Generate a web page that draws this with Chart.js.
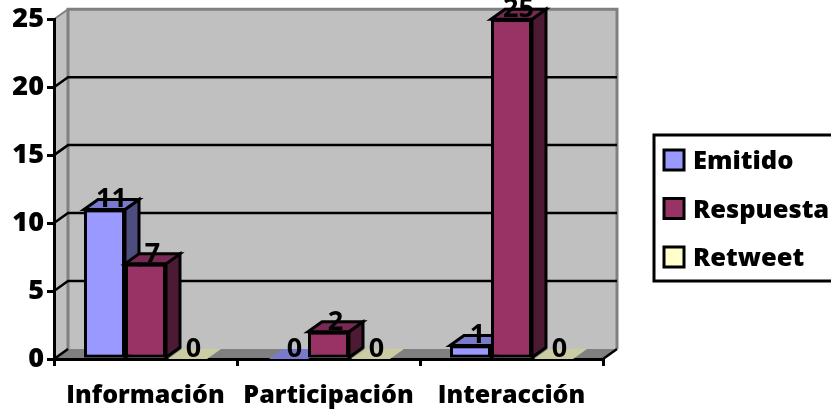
<!DOCTYPE html>
<html lang="es">
<head>
    <meta charset="UTF-8">
    <title>Emitido, Respuesta, Retweet</title>
    <script src="https://cdn.jsdelivr.net/npm/chart.js"></script>
    <style>
        html, body {
            margin: 0;
            background: #ffffff;
            overflow: hidden;
        }
        canvas {
            display: block;
        }
    </style>
</head>
<body>
    <canvas id="chart" width="831" height="415"></canvas>

    <script>
        const categories = ['Información', 'Participación', 'Interacción'];
        const emitido = [11, 0, 1];
        const respuesta = [7, 2, 25];
        const retweet = [0, 0, 0];
        const yMax = 25;
        const yStep = 5;

        const depthX = 14;   // how far the 3D back wall is shifted
        const depthY = 10;
        const legendFont = '800 25.5px "Open Sans"';

        function face(ctx, points, fill, stroke) {
            ctx.beginPath();
            points.forEach((p, i) => i ? ctx.lineTo(p[0], p[1]) : ctx.moveTo(p[0], p[1]));
            ctx.closePath();
            ctx.fillStyle = fill;
            ctx.fill();
            if (stroke) {
                ctx.lineWidth = 3;
                ctx.strokeStyle = stroke;
                ctx.lineJoin = 'miter';
                ctx.stroke();
            }
        }

        // walls and floor behind the bars
        const wallsPlugin = {
            id: 'walls',
            beforeDraw(chart) {
                const { ctx, chartArea: a, scales: { y } } = chart;
                const backTop = a.top - depthY;
                const backBottom = a.bottom - depthY;
                ctx.save();
                face(ctx, [[a.left, a.top], [a.left + depthX, backTop], [a.left + depthX, backBottom], [a.left, a.bottom]], '#c0c0c0');
                face(ctx, [[a.left + depthX, backTop], [a.right + depthX, backTop], [a.right + depthX, backBottom], [a.left + depthX, backBottom]], '#c0c0c0');
                face(ctx, [[a.left, a.bottom], [a.left + depthX, backBottom], [a.right + depthX, backBottom], [a.right, a.bottom]], '#808080');

                ctx.strokeStyle = '#808080';
                ctx.lineWidth = 3;
                ctx.beginPath();
                ctx.moveTo(a.left + depthX, backBottom);
                ctx.lineTo(a.left + depthX, backTop);
                ctx.lineTo(a.right + depthX, backTop);
                ctx.lineTo(a.right + depthX, backBottom);
                ctx.stroke();

                ctx.lineWidth = 2;
                ctx.beginPath();
                ctx.moveTo(a.left, a.top);
                ctx.lineTo(a.left + depthX, backTop);
                ctx.stroke();

                ctx.strokeStyle = '#000000';
                ctx.lineWidth = 2.5;
                for (let v = 0; v < yMax; v += yStep) {
                    const py = y.getPixelForValue(v);
                    ctx.beginPath();
                    ctx.moveTo(a.left, py);
                    ctx.lineTo(a.left + depthX, py - depthY);
                    if (v > 0) ctx.lineTo(a.right + depthX, py - depthY);
                    ctx.stroke();
                }
                ctx.beginPath();
                ctx.moveTo(a.right, a.bottom);
                ctx.lineTo(a.right + depthX, a.bottom - depthY);
                ctx.stroke();
                ctx.restore();
            }
        };

        // side and top faces, then the value labels
        const barsPlugin = {
            id: 'bars3d',
            afterDatasetsDraw(chart) {
                const { ctx, data } = chart;
                ctx.save();
                data.datasets.forEach((ds, i) => {
                    chart.getDatasetMeta(i).data.forEach((bar, j) => {
                        const l = bar.x - bar.width / 2;
                        const r = bar.x + bar.width / 2;
                        if (ds.data[j] > 0) {
                            face(ctx, [[r, bar.y], [r + depthX, bar.y - depthY], [r + depthX, bar.base - depthY], [r, bar.base]], ds.sideColor, '#000000');
                            face(ctx, [[l, bar.y], [l + depthX, bar.y - depthY], [r + depthX, bar.y - depthY], [r, bar.y]], ds.topColor, '#000000');
                            bar.draw(ctx);
                        } else {
                            face(ctx, [[l + 2, bar.y], [l + depthX + 2, bar.y - depthY], [r + depthX, bar.y - depthY], [r, bar.y]], ds.topColor);
                        }
                    });
                });
                ctx.fillStyle = '#000000';
                ctx.font = 'bold 27px "Open Sans"';
                ctx.textAlign = 'center';
                ctx.textBaseline = 'middle';
                data.datasets.forEach((ds, i) => {
                    chart.getDatasetMeta(i).data.forEach((bar, j) => {
                        ctx.fillText(ds.data[j], bar.x + depthX / 2, bar.y - depthY);
                    });
                });
                ctx.restore();
            }
        };

        // legend box runs off the right edge like the original
        const legendPlugin = {
            id: 'sideLegend',
            afterDraw(chart) {
                const { ctx, data } = chart;
                ctx.save();
                ctx.strokeStyle = '#000000';
                ctx.lineWidth = 3;
                ctx.strokeRect(654, 135, 190, 146);
                ctx.font = legendFont;
                ctx.textAlign = 'left';
                ctx.textBaseline = 'middle';
                data.datasets.forEach((ds, i) => {
                    const top = 150 + i * 48.5;
                    ctx.fillStyle = ds.backgroundColor;
                    ctx.fillRect(664, top, 20, 20);
                    ctx.strokeRect(664, top, 20, 20);
                    ctx.fillStyle = '#000000';
                    ctx.fillText(ds.label, 693, top + 12);
                });
                ctx.restore();
            }
        };

        new Chart(document.getElementById('chart'), {
            type: 'bar',
            data: {
                labels: categories,
                datasets: [
                    { label: 'Emitido', data: emitido, backgroundColor: '#9999ff', topColor: '#7a7acc', sideColor: '#4d4d80' },
                    { label: 'Respuesta', data: respuesta, backgroundColor: '#993366', topColor: '#7a2952', sideColor: '#4d1a33' },
                    { label: 'Retweet', data: retweet, backgroundColor: '#ffffcc', topColor: '#cccca3', sideColor: '#808066' }
                ]
            },
            options: {
                responsive: false,
                animation: false,
                layout: { padding: { top: 19, right: 228, bottom: 0, left: 0 } },
                datasets: {
                    bar: {
                        categoryPercentage: 0.672,
                        barPercentage: 1,
                        borderColor: '#000000',
                        borderWidth: 3,
                        borderSkipped: false
                    }
                },
                plugins: {
                    legend: { display: false },
                    tooltip: { enabled: false }
                },
                scales: {
                    x: {
                        afterFit: s => { s.height = 56; },
                        grid: { drawOnChartArea: false, color: '#000000', lineWidth: 3, tickLength: 7 },
                        border: { color: '#000000', width: 3 },
                        ticks: { color: '#000000', font: { family: 'Open Sans', weight: '800', size: 25 }, padding: 15, maxRotation: 0, autoSkip: false }
                    },
                    y: {
                        min: 0,
                        max: yMax,
                        afterFit: s => { s.width = 54; },
                        grid: { drawOnChartArea: false, color: '#000000', lineWidth: 3, tickLength: 7 },
                        border: { color: '#000000', width: 3 },
                        ticks: { stepSize: yStep, color: '#000000', font: { family: 'Open Sans', weight: '800', size: 27 }, padding: 3 }
                    }
                }
            },
            plugins: [wallsPlugin, barsPlugin, legendPlugin]
        });
    </script>
</body>
</html>
